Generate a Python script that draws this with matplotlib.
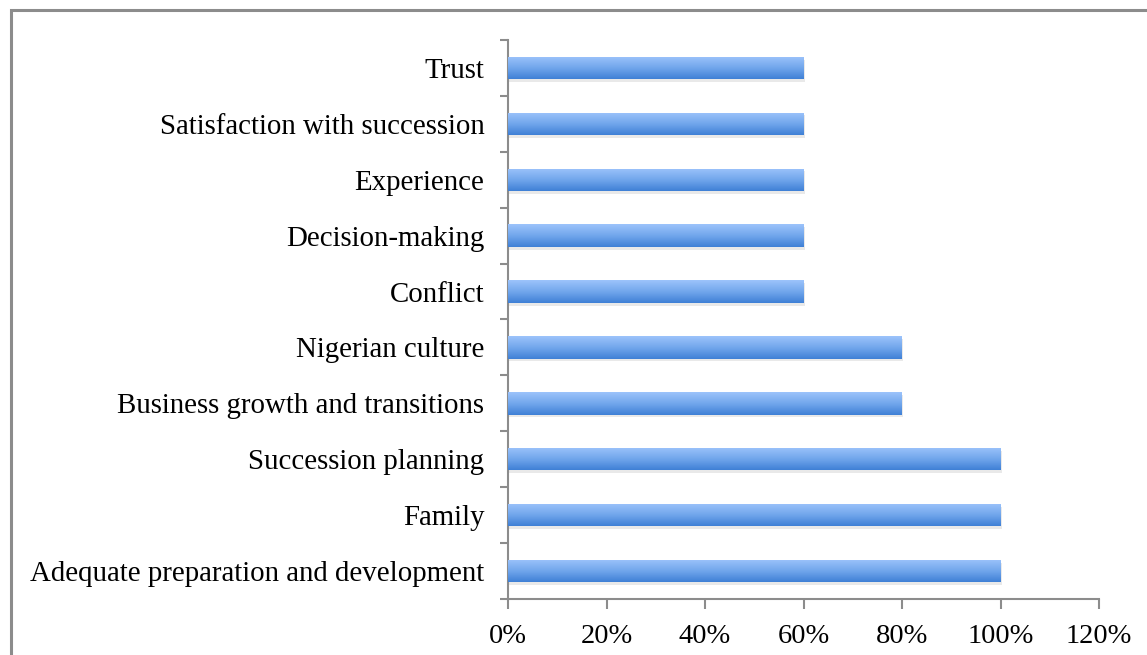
import numpy as np
import matplotlib.pyplot as plt
from matplotlib.colors import LinearSegmentedColormap
from matplotlib.patches import Rectangle

categories = ['Adequate preparation and development', 'Family', 'Succession planning',
              'Business growth and transitions', 'Nigerian culture', 'Conflict',
              'Decision-making', 'Experience', 'Satisfaction with succession', 'Trust']
values = [100, 100, 100, 80, 80, 60, 60, 60, 60, 60]
xticks = [0, 20, 40, 60, 80, 100, 120]

plt.rcParams['font.family'] = ['Liberation Serif', 'DejaVu Serif']

fig = plt.figure(figsize=(11.47, 6.55), dpi=100)
# outer frame
fig.patches.append(Rectangle((11 / 1147, -0.05), 1.1, 1 - 10 / 655 + 0.05, transform=fig.transFigure,
                             fill=False, edgecolor='#8c8c8c', linewidth=2.2))
ax = fig.add_axes([508 / 1147, 1 - 599 / 655, (1099 - 508) / 1147, (599 - 40) / 655])

y = np.arange(len(categories))
h = 0.4
cmap = LinearSegmentedColormap.from_list('g', ['#3f80d6', '#72a7ec', '#9cc3fb'])
grad = np.linspace(0, 1, 100).reshape(-1, 1)
for yi, v in zip(y, values):
    # soft shadow
    ax.barh(yi - 0.05, v + 0.3, height=h, color='#b8b8b8', alpha=0.3, zorder=1)
    bar = ax.barh(yi, v, height=h, color='none', zorder=2)[0]
    im = ax.imshow(grad, cmap=cmap, aspect='auto', origin='lower',
                   extent=[0, v, yi - h / 2, yi + h / 2], zorder=3)
    im.set_clip_path(bar)

ax.set_xlim(0, 120)
ax.set_ylim(-0.5, len(categories) - 0.5)
ax.set_xticks(xticks)
ax.set_xticklabels([f'{t}%' for t in xticks], fontsize=20.5)
ax.set_yticks(y)
ax.set_yticklabels(categories, fontsize=20.8)
ax.set_yticks(np.arange(-0.5, len(categories), 1), minor=True)
ax.tick_params(axis='y', which='major', length=0, pad=17)
ax.tick_params(axis='y', which='minor', length=6, color='#8c8c8c', width=1.5)
ax.tick_params(axis='x', length=7, color='#8c8c8c', width=1.5, pad=11)
for s in ['top', 'right']:
    ax.spines[s].set_visible(False)
for s in ['left', 'bottom']:
    ax.spines[s].set_color('#8c8c8c')
    ax.spines[s].set_linewidth(1.5)

plt.savefig('out.png', dpi=100)
